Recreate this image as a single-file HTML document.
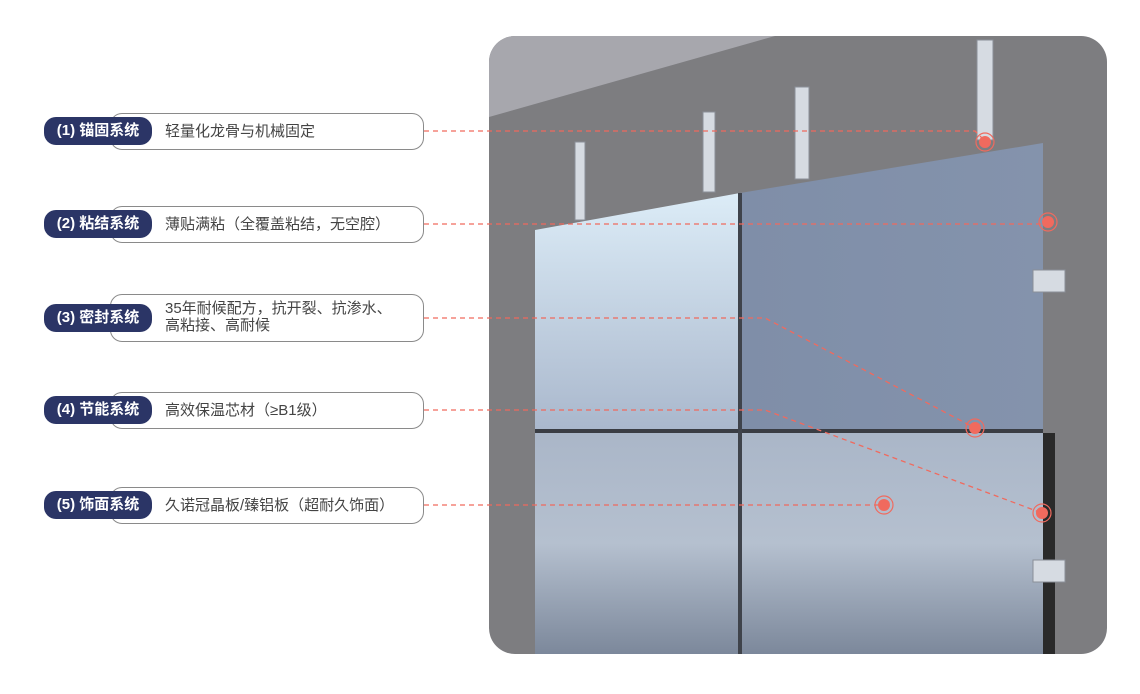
<!DOCTYPE html>
<html><head><meta charset="utf-8"><style>
html,body{margin:0;padding:0;background:#fff;width:1140px;height:694px;overflow:hidden;font-family:"Liberation Sans","Noto Sans CJK SC",sans-serif;}
.box{position:absolute;left:110px;width:312px;border:1px solid #8a8a8a;border-radius:12px;background:#fff;}
.txt{position:absolute;left:165px;font-size:15px;color:#444;line-height:17px;}
.pill{position:absolute;left:44px;width:108px;height:28px;border-radius:12px;background:#2b3566;color:#fff;font-weight:bold;font-size:15px;line-height:28px;text-align:center;}
svg{position:absolute;left:0;top:0;}
</style></head><body>
<svg width="1140" height="694">
<defs>
<clipPath id="c"><rect x="489" y="36" width="618" height="618" rx="26"/></clipPath>
<linearGradient id="gl" x1="0" y1="0" x2="0" y2="1"><stop offset="0" stop-color="#dcecf7"/><stop offset="1" stop-color="#a9b7cc"/></linearGradient>
<linearGradient id="gb" x1="0" y1="0" x2="0" y2="1"><stop offset="0" stop-color="#aab6c8"/><stop offset="0.5" stop-color="#b5c0cf"/><stop offset="1" stop-color="#7c889b"/></linearGradient>
<linearGradient id="gr" x1="0" y1="0" x2="1" y2="0"><stop offset="0" stop-color="#7f8ea8"/><stop offset="1" stop-color="#8493ac"/></linearGradient>
</defs>
<g clip-path="url(#c)">
<rect x="489" y="36" width="618" height="618" fill="#7d7d80"/>
<polygon points="489,36 775,36 489,117" fill="#a7a7ad"/>
<rect x="1043" y="433" width="12" height="221" fill="#2a2a2a"/>
<polygon points="535,230 740,193 740,433 535,433" fill="url(#gl)"/>
<polygon points="740,193 1043,143 1043,433 740,433" fill="url(#gr)"/>
<rect x="535" y="433" width="205" height="221" fill="url(#gb)"/>
<rect x="742" y="433" width="301" height="221" fill="url(#gb)"/>
<rect x="535" y="429" width="508" height="4" fill="#3a3d44"/>
<rect x="738" y="193" width="4" height="461" fill="#3f434b"/>
<g fill="#d6dbe2" stroke="#8a8f98" stroke-width="1">
<rect x="575" y="142" width="10" height="78"/><rect x="703" y="112" width="12" height="80"/><rect x="795" y="87" width="14" height="92"/><rect x="977" y="40" width="16" height="100"/>
<rect x="1033" y="270" width="32" height="22"/><rect x="1033" y="560" width="32" height="22"/>
</g>
</g>
<g stroke="#f06a5e" stroke-width="1.3" stroke-dasharray="5,4" fill="none">
<polyline points="424,131 975,131 985,141"/>
<polyline points="424,224 1048,224"/>
<polyline points="424,318 765,318 975,428"/>
<polyline points="424,410 765,410 1042,513"/>
<polyline points="424,505 884,505"/>
</g>
<g fill="#f06a5e">
<circle cx="985" cy="142" r="6"/><circle cx="1048" cy="222" r="6"/><circle cx="975" cy="428" r="6"/><circle cx="1042" cy="513" r="6"/><circle cx="884" cy="505" r="6"/>
</g>
<g fill="none" stroke="#f06a5e" stroke-width="1.2">
<circle cx="985" cy="142" r="9"/><circle cx="1048" cy="222" r="9"/><circle cx="975" cy="428" r="9"/><circle cx="1042" cy="513" r="9"/><circle cx="884" cy="505" r="9"/>
</g>
</svg>
<div class="box" style="top:113px;height:35px"></div><div class="pill" style="top:117px">(1) 锚固系统</div><div class="txt" style="top:123px">轻量化龙骨与机械固定</div>
<div class="box" style="top:206px;height:35px"></div><div class="pill" style="top:210px">(2) 粘结系统</div><div class="txt" style="top:216px">薄贴满粘（全覆盖粘结，无空腔）</div>
<div class="box" style="top:294px;height:46px"></div><div class="pill" style="top:304px">(3) 密封系统</div><div class="txt" style="top:300px">35年耐候配方，抗开裂、抗渗水、<br>高粘接、高耐候</div>
<div class="box" style="top:392px;height:35px"></div><div class="pill" style="top:396px">(4) 节能系统</div><div class="txt" style="top:402px">高效保温芯材（≥B1级）</div>
<div class="box" style="top:487px;height:35px"></div><div class="pill" style="top:491px">(5) 饰面系统</div><div class="txt" style="top:497px">久诺冠晶板/臻铝板（超耐久饰面）</div>
</body></html>
